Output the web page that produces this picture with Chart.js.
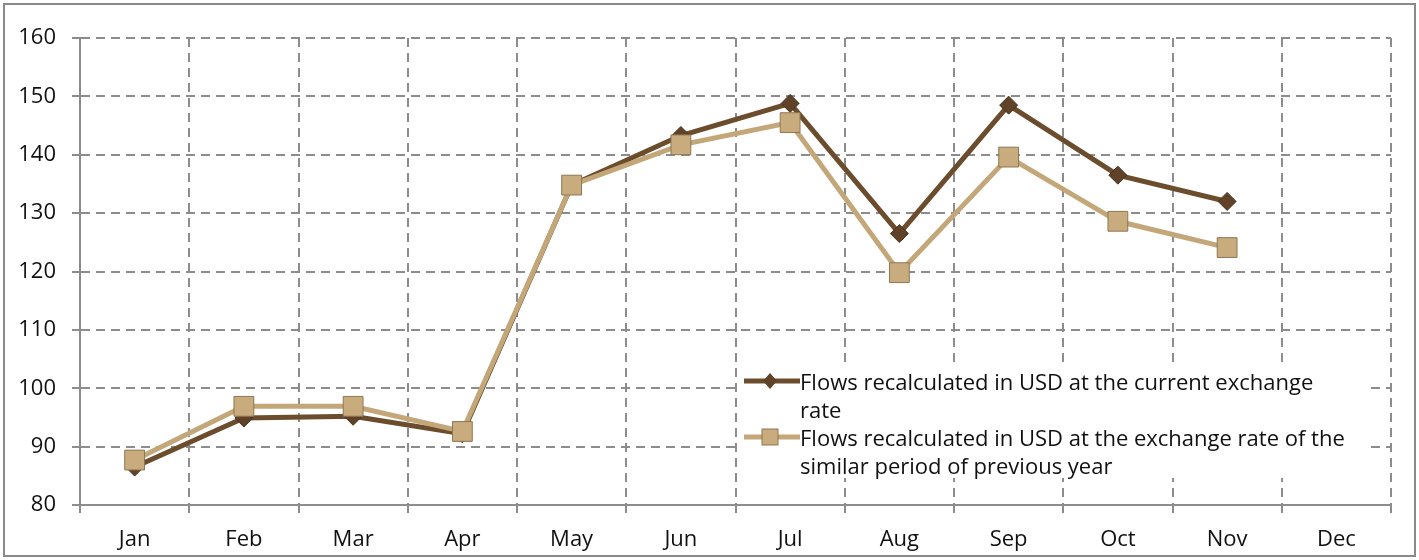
<!DOCTYPE html>
<html>
<head>
<meta charset="utf-8">
<script src="https://cdn.jsdelivr.net/npm/chart.js@4/dist/chart.umd.min.js"></script>
<style>
  html, body { margin: 0; padding: 0; background: #fff; }
  #wrap { position: relative; width: 1419px; height: 560px; }
  #legend {
    position: absolute; left: 738px; top: 367px; width: 630px; height: 111px;
    background: #fff; font-family: "Open Sans", sans-serif; font-size: 22px;
    color: #111; line-height: 28px; white-space: nowrap;
  }
  .row { position: relative; padding-left: 62px; }
  .row svg { position: absolute; left: 6px; top: 4px; }
</style>
</head>
<body>
<div id="wrap">
  <canvas id="c" width="1419" height="560"></canvas>
  <div id="legend"></div>
</div>
<script>
const categories = ["Jan","Feb","Mar","Apr","May","Jun","Jul","Aug","Sep","Oct","Nov","Dec"];
const currentRate = [86.5, 94.9, 95.2, 92.2, 134.8, 143.3, 148.8, 126.5, 148.5, 136.5, 132.0, null];
const previousYearRate = [87.7, 96.9, 96.9, 92.6, 134.8, 141.7, 145.5, 119.8, 139.6, 128.6, 124.1, null];
const seriesNames = [
  ["Flows recalculated in USD at the current exchange", "rate"],
  ["Flows recalculated in USD at the exchange rate of the", "similar period of previous year"]
];
const yMin = 80, yMax = 160, yStep = 10;

const darkLine = "#6b4c2d", lightLine = "#c3a779";

const frame = {
  id: "frame",
  beforeDraw(chart) {
    const ctx = chart.ctx;
    ctx.save();
    ctx.fillStyle = "#fff";
    ctx.fillRect(0, 0, chart.width, chart.height);
    ctx.strokeStyle = "#8a8a8a";
    ctx.lineWidth = 2;
    ctx.strokeRect(4, 4, chart.width - 8, chart.height - 8);
    ctx.restore();
  }
};

const gridColor = "#8c8c8c";
const tickFont = { family: "Open Sans", size: 22 };
new Chart(document.getElementById("c"), {
  type: "line",
  data: {
    labels: categories,
    datasets: [
      {
        label: seriesNames[0].join(" "),
        data: currentRate,
        borderColor: darkLine,
        borderWidth: 5,
        pointStyle: "rectRot",
        pointRadius: 9,
        pointBackgroundColor: "#5f4227",
        pointBorderColor: "#4a331d",
        pointBorderWidth: 1,
        tension: 0,
        order: 2
      },
      {
        label: seriesNames[1].join(" "),
        data: previousYearRate,
        borderColor: lightLine,
        borderWidth: 5,
        pointStyle: "rect",
        pointRadius: 14,
        pointBackgroundColor: "#c8ac7e",
        pointBorderColor: "#8e7652",
        pointBorderWidth: 1,
        tension: 0,
        order: 1
      }
    ]
  },
  options: {
    responsive: false,
    animation: false,
    layout: { padding: { left: 0, right: 28, top: 38, bottom: 0 } },
    plugins: { legend: { display: false }, tooltip: { enabled: false } },
    scales: {
      x: {
        offset: true,
        grid: { offset: true, color: gridColor, lineWidth: 2, tickLength: 8, tickColor: gridColor, tickWidth: 2 },
        border: { display: true, color: gridColor, width: 2, dash: [9, 6] },
        ticks: { color: "#111", font: tickFont, padding: 14, maxRotation: 0 },
        afterFit(s) { s.height = 55; }
      },
      y: {
        min: yMin, max: yMax,
        grid: { color: gridColor, lineWidth: 2, tickLength: 8, tickColor: gridColor, tickWidth: 2 },
        border: { display: true, color: gridColor, width: 2, dash: [9, 6] },
        ticks: { stepSize: yStep, color: "#111", font: tickFont, padding: 16 },
        afterFit(s) { s.width = 80; }
      }
    }
  },
  plugins: [frame]
});

const legendMarkers = [
  '<svg width="56" height="20"><line x1="0" y1="10" x2="56" y2="10" stroke="' + darkLine + '" stroke-width="5"/><polygon points="26,2 33,10 26,18 19,10" fill="#5f4227"/></svg>',
  '<svg width="56" height="20"><line x1="0" y1="10" x2="56" y2="10" stroke="' + lightLine + '" stroke-width="5"/><rect x="18" y="2" width="16" height="16" fill="#c8ac7e" stroke="#8e7652"/></svg>'
];
const legend = document.getElementById("legend");
seriesNames.forEach((lines, i) => {
  const row = document.createElement("div");
  row.className = "row";
  row.innerHTML = legendMarkers[i] + lines.join("<br>");
  legend.appendChild(row);
});
</script>
</body>
</html>
